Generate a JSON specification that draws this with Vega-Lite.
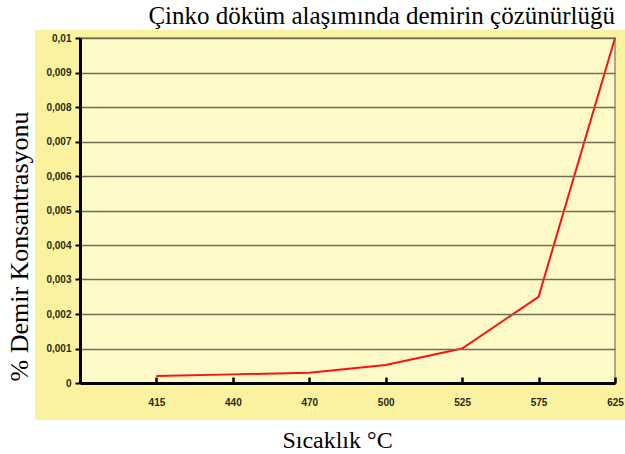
{
  "$schema": "https://vega.github.io/schema/vega-lite/v6.json",
  "width": 535,
  "height": 345,
  "autosize": {"type": "none"},
  "padding": {"left": 80, "top": 38, "right": 10, "bottom": 71},
  "background": "#ffffff",
  "title": {
    "text": "Çinko döküm alaşımında demirin çözünürlüğü",
    "anchor": "end",
    "frame": "group",
    "font": "Liberation Serif",
    "fontSize": 25,
    "fontWeight": "normal",
    "color": "#000000",
    "offset": 1
  },
  "config": {"view": {"stroke": null}},
  "resolve": {"scale": {"x": "independent", "y": "independent"}},
  "layer": [
    {
      "data": {"values": [{}]},
      "mark": {"type": "rect", "fill": "#FBF29F", "clip": false},
      "encoding": {
        "x": {"datum": -0.0841, "type": "quantitative", "scale": {"domain": [0, 1], "nice": false, "zero": false}, "axis": null},
        "x2": {"datum": 1.0187},
        "y": {"datum": -0.1072, "type": "quantitative", "scale": {"domain": [0, 1], "nice": false, "zero": false}, "axis": null},
        "y2": {"datum": 1.0232}
      }
    },
    {
      "data": {"values": [{}]},
      "mark": {"type": "rect", "fill": "#FEFAC8", "stroke": "#A9A88F", "strokeWidth": 2},
      "encoding": {}
    },
    {
      "data": {
        "values": [
          {"sicaklik": "415", "konsantrasyon": 0.0002},
          {"sicaklik": "440", "konsantrasyon": 0.00025},
          {"sicaklik": "470", "konsantrasyon": 0.0003},
          {"sicaklik": "500", "konsantrasyon": 0.00052},
          {"sicaklik": "525", "konsantrasyon": 0.001},
          {"sicaklik": "575", "konsantrasyon": 0.0025},
          {"sicaklik": "625", "konsantrasyon": 0.01}
        ]
      },
      "mark": {"type": "line", "color": "#FF1010", "strokeWidth": 2},
      "encoding": {
        "x": {
          "field": "sicaklik",
          "type": "ordinal",
          "scale": {"type": "point", "domain": ["", "415", "440", "470", "500", "525", "575", "625"], "padding": 0},
          "axis": {
            "title": "Sıcaklık °C",
            "labelAngle": 0,
            "labelFont": "Liberation Sans",
            "labelFontSize": 10,
            "labelFontWeight": "bold",
            "labelColor": "#2b2b18",
            "labelPadding": 20,
            "tickSize": -6,
            "tickColor": "#000000",
            "tickWidth": 2.5,
            "domainColor": "#000000",
            "domainWidth": 3,
            "grid": false,
            "titleFont": "Liberation Serif",
            "titleFontSize": 24,
            "titleFontWeight": "normal",
            "titleColor": "#000000",
            "titleBaseline": "alphabetic",
            "titleX": 257,
            "titleY": 64,
            "zindex": 1
          }
        },
        "y": {
          "field": "konsantrasyon",
          "type": "quantitative",
          "scale": {"domain": [0, 0.01], "nice": false},
          "axis": {
            "title": "% Demir Konsantrasyonu",
            "values": [0, 0.001, 0.002, 0.003, 0.004, 0.005, 0.006, 0.007, 0.008, 0.009, 0.01],
            "labelExpr": "replace(format(datum.value, '.3~f'), '.', ',')",
            "labelFont": "Liberation Sans",
            "labelFontSize": 10,
            "labelFontWeight": "bold",
            "labelColor": "#2b2b18",
            "labelPadding": 4,
            "tickSize": 5,
            "tickColor": "#000000",
            "tickWidth": 2,
            "domainColor": "#000000",
            "domainWidth": 3,
            "grid": true,
            "gridColor": "#6E6E58",
            "gridWidth": 1.5,
            "titleFont": "Liberation Serif",
            "titleFontSize": 26,
            "titleFontWeight": "normal",
            "titleColor": "#000000",
            "titleBaseline": "alphabetic",
            "titleX": -53,
            "titleY": 208,
            "zindex": 1
          }
        }
      }
    }
  ]
}
